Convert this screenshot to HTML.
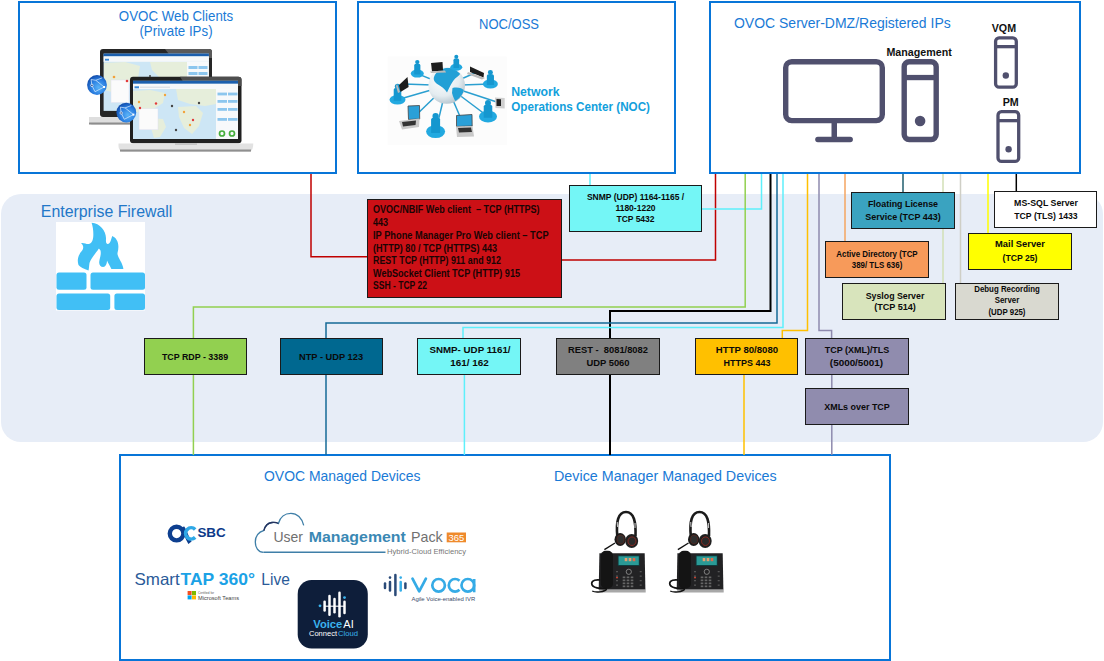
<!DOCTYPE html>
<html><head><meta charset="utf-8"><style>
html,body{margin:0;padding:0;}
body{width:1104px;height:661px;position:relative;overflow:hidden;background:#fff;font-family:"Liberation Sans", sans-serif;}
.t{position:absolute;white-space:pre;line-height:1;}
.r{position:absolute;box-sizing:border-box;}
svg{position:absolute;left:0;top:0;}
</style></head><body>

<div class="r" style="left:1px;top:194px;width:1102px;height:248px;background:#e7edf7;border-radius:20px;"></div>
<div class="r" style="left:18px;top:1px;width:319px;height:173px;background:#fff;border:2px solid #0875d8;"></div>
<div class="r" style="left:357px;top:1px;width:319px;height:173px;background:#fff;border:2px solid #0875d8;"></div>
<div class="r" style="left:709px;top:1px;width:372px;height:173px;background:#fff;border:2px solid #0875d8;"></div>
<div class="r" style="left:119px;top:454px;width:772px;height:207px;background:#fff;border:2px solid #0875d8;"></div>
<svg width="1104" height="661"><path d="M311,174 L311,256.7 L367,256.7" stroke="#c00000" stroke-width="1.5" fill="none"/><path d="M562,260 L715.5,260 L715.5,174" stroke="#c00000" stroke-width="1.5" fill="none"/><path d="M590,174 L590,185" stroke="#5ef0fb" stroke-width="1.5" fill="none"/><path d="M702,209 L761.5,209 L761.5,174" stroke="#5ef0fb" stroke-width="1.5" fill="none"/><path d="M193.4,338 L193.4,307 L745.2,307 L745.2,174" stroke="#92d050" stroke-width="1.5" fill="none"/><path d="M193.4,375 L193.4,455" stroke="#92d050" stroke-width="1.5" fill="none"/><path d="M610,338 L610,311 L770.5,311 L770.5,174" stroke="#000" stroke-width="2" fill="none"/><path d="M610,375 L610,455" stroke="#000" stroke-width="2" fill="none"/><path d="M326,338 L326,323 L777,323 L777,174" stroke="#166a97" stroke-width="1.5" fill="none"/><path d="M326,375 L326,455" stroke="#166a97" stroke-width="1.5" fill="none"/><path d="M463,338 L463,327.5 L783,327.5 L783,174" stroke="#5ef0fb" stroke-width="1.5" fill="none"/><path d="M464.4,375 L464.4,455" stroke="#5ef0fb" stroke-width="1.5" fill="none"/><path d="M782.3,338 L782.3,330.6 L807.5,330.6 L807.5,174" stroke="#ffc000" stroke-width="1.5" fill="none"/><path d="M744,375 L744,455" stroke="#ffc000" stroke-width="1.5" fill="none"/><path d="M831.6,338 L831.6,330.6 L819,330.6 L819,174" stroke="#8e8aae" stroke-width="1.5" fill="none"/><path d="M831.8,375 L831.8,388" stroke="#8e8aae" stroke-width="1.5" fill="none"/><path d="M831.8,425 L831.8,455" stroke="#8e8aae" stroke-width="1.5" fill="none"/><path d="M845,174 L845,241" stroke="#f4a460" stroke-width="1.5" fill="none"/><path d="M903,174 L903,192" stroke="#215e6e" stroke-width="1.5" fill="none"/><path d="M943,174 L943,283" stroke="#d2dfb6" stroke-width="1.5" fill="none"/><path d="M960.5,174 L960.5,283" stroke="#cfcfc6" stroke-width="1.5" fill="none"/><path d="M988,174 L988,233" stroke="#ffff00" stroke-width="1.5" fill="none"/><path d="M1016.3,174 L1016.3,191" stroke="#000" stroke-width="1.5" fill="none"/></svg>
<div class="r" style="left:367px;top:199px;width:195px;height:99px;background:#cc1016;border:1px solid #1a1a1a;"></div>
<div class="r" style="left:569px;top:185px;width:133px;height:47px;background:#74f6f6;border:1px solid #1a1a1a;"></div>
<div class="r" style="left:851px;top:192px;width:104px;height:37px;background:#3aa3c0;border:1px solid #1a1a1a;"></div>
<div class="r" style="left:994px;top:191px;width:103px;height:37px;background:#fff;border:1px solid #1a1a1a;"></div>
<div class="r" style="left:968px;top:233px;width:104px;height:37px;background:#ffff00;border:1px solid #1a1a1a;"></div>
<div class="r" style="left:825px;top:241px;width:104px;height:37px;background:#f79a5a;border:1px solid #1a1a1a;"></div>
<div class="r" style="left:842px;top:283px;width:104px;height:37px;background:#d8e4bc;border:1px solid #1a1a1a;"></div>
<div class="r" style="left:955px;top:283px;width:104px;height:37px;background:#d9d9d0;border:1px solid #1a1a1a;"></div>
<div class="r" style="left:144px;top:338px;width:103px;height:37px;background:#92d050;border:1px solid #1a1a1a;"></div>
<div class="r" style="left:280px;top:338px;width:103px;height:37px;background:#006890;border:1px solid #1a1a1a;"></div>
<div class="r" style="left:417px;top:338px;width:104px;height:37px;background:#74f6f6;border:1px solid #1a1a1a;"></div>
<div class="r" style="left:556px;top:338px;width:104px;height:37px;background:#808080;border:1px solid #1a1a1a;"></div>
<div class="r" style="left:695px;top:338px;width:103px;height:37px;background:#ffc000;border:1px solid #1a1a1a;"></div>
<div class="r" style="left:805px;top:338px;width:104px;height:37px;background:#908cae;border:1px solid #1a1a1a;"></div>
<div class="r" style="left:805px;top:388px;width:104px;height:37px;background:#908cae;border:1px solid #1a1a1a;"></div>
<div class="t" style="left:373.20px;top:205.28px;font-size:10.3px;font-weight:bold;color:#1a0404;transform:scaleX(0.879);transform-origin:left;">OVOC/NBIF Web client  – TCP (HTTPS)</div>
<div class="t" style="left:373.20px;top:217.58px;font-size:10.3px;font-weight:bold;color:#1a0404;transform:scaleX(0.88);transform-origin:left;">443</div>
<div class="t" style="left:373.20px;top:230.88px;font-size:10.3px;font-weight:bold;color:#1a0404;transform:scaleX(0.899);transform-origin:left;">IP Phone Manager Pro Web client – TCP</div>
<div class="t" style="left:373.20px;top:243.78px;font-size:10.3px;font-weight:bold;color:#1a0404;transform:scaleX(0.883);transform-origin:left;">(HTTP) 80 / TCP (HTTPS) 443</div>
<div class="t" style="left:373.20px;top:255.68px;font-size:10.3px;font-weight:bold;color:#1a0404;transform:scaleX(0.864);transform-origin:left;">REST TCP (HTTP) 911 and 912</div>
<div class="t" style="left:373.20px;top:268.58px;font-size:10.3px;font-weight:bold;color:#1a0404;transform:scaleX(0.882);transform-origin:left;">WebSocket Client TCP (HTTP) 915</div>
<div class="t" style="left:373.20px;top:281.28px;font-size:10.3px;font-weight:bold;color:#1a0404;transform:scaleX(0.83);transform-origin:left;">SSH - TCP 22</div>
<div class="t" style="left:635.50px;top:192.80px;font-size:8.5px;font-weight:bold;color:#0a0a0a;transform:translateX(-50%) scaleX(1.0);transform-origin:center;">SNMP (UDP) 1164-1165 /</div>
<div class="t" style="left:635.50px;top:204.00px;font-size:8.5px;font-weight:bold;color:#0a0a0a;transform:translateX(-50%) scaleX(1.0);transform-origin:center;">1180-1220</div>
<div class="t" style="left:635.50px;top:214.70px;font-size:8.5px;font-weight:bold;color:#0a0a0a;transform:translateX(-50%) scaleX(1.0);transform-origin:center;">TCP 5432</div>
<div class="t" style="left:903.00px;top:198.82px;font-size:9.9px;font-weight:bold;color:#0a0a0a;transform:translateX(-50%) scaleX(0.9);transform-origin:center;">Floating License</div>
<div class="t" style="left:903.00px;top:211.62px;font-size:9.9px;font-weight:bold;color:#0a0a0a;transform:translateX(-50%) scaleX(0.907);transform-origin:center;">Service (TCP 443)</div>
<div class="t" style="left:1045.50px;top:197.82px;font-size:9.9px;font-weight:bold;color:#0a0a0a;transform:translateX(-50%) scaleX(0.89);transform-origin:center;">MS-SQL Server</div>
<div class="t" style="left:1045.50px;top:210.82px;font-size:9.9px;font-weight:bold;color:#0a0a0a;transform:translateX(-50%) scaleX(0.877);transform-origin:center;">TCP (TLS) 1433</div>
<div class="t" style="left:1020.00px;top:239.42px;font-size:9.9px;font-weight:bold;color:#0a0a0a;transform:translateX(-50%) scaleX(0.946);transform-origin:center;">Mail Server</div>
<div class="t" style="left:1020.00px;top:253.22px;font-size:9.9px;font-weight:bold;color:#0a0a0a;transform:translateX(-50%) scaleX(0.878);transform-origin:center;">(TCP 25)</div>
<div class="t" style="left:877.00px;top:249.92px;font-size:8.6px;font-weight:bold;color:#0a0a0a;transform:translateX(-50%) scaleX(0.92);transform-origin:center;">Active Directory (TCP</div>
<div class="t" style="left:877.00px;top:260.72px;font-size:8.6px;font-weight:bold;color:#0a0a0a;transform:translateX(-50%) scaleX(0.92);transform-origin:center;">389/ TLS 636)</div>
<div class="t" style="left:894.50px;top:290.82px;font-size:9.9px;font-weight:bold;color:#0a0a0a;transform:translateX(-50%) scaleX(0.89);transform-origin:center;">Syslog Server</div>
<div class="t" style="left:894.50px;top:302.22px;font-size:9.9px;font-weight:bold;color:#0a0a0a;transform:translateX(-50%) scaleX(0.92);transform-origin:center;">(TCP 514)</div>
<div class="t" style="left:1007.30px;top:285.96px;font-size:8.2px;font-weight:bold;color:#0a0a0a;transform:translateX(-50%) scaleX(0.96);transform-origin:center;">Debug Recording</div>
<div class="t" style="left:1007.30px;top:297.26px;font-size:8.2px;font-weight:bold;color:#0a0a0a;transform:translateX(-50%) scaleX(0.96);transform-origin:center;">Server</div>
<div class="t" style="left:1007.30px;top:308.66px;font-size:8.2px;font-weight:bold;color:#0a0a0a;transform:translateX(-50%) scaleX(0.96);transform-origin:center;">(UDP 925)</div>
<div class="t" style="left:195.20px;top:351.92px;font-size:9.9px;font-weight:bold;color:#0a0a0a;transform:translateX(-50%) scaleX(0.897);transform-origin:center;">TCP RDP - 3389</div>
<div class="t" style="left:331.40px;top:351.92px;font-size:9.9px;font-weight:bold;color:#0a0a0a;transform:translateX(-50%) scaleX(0.94);transform-origin:center;">NTP - UDP 123</div>
<div class="t" style="left:469.50px;top:345.22px;font-size:9.9px;font-weight:bold;color:#0a0a0a;transform:translateX(-50%) scaleX(0.987);transform-origin:center;">SNMP- UDP 1161/</div>
<div class="t" style="left:469.50px;top:357.92px;font-size:9.9px;font-weight:bold;color:#0a0a0a;transform:translateX(-50%) scaleX(1.0);transform-origin:center;">161/ 162</div>
<div class="t" style="left:608.00px;top:345.22px;font-size:9.9px;font-weight:bold;color:#0a0a0a;transform:translateX(-50%) scaleX(0.945);transform-origin:center;">REST -  8081/8082</div>
<div class="t" style="left:608.00px;top:357.92px;font-size:9.9px;font-weight:bold;color:#0a0a0a;transform:translateX(-50%) scaleX(0.95);transform-origin:center;">UDP 5060</div>
<div class="t" style="left:746.70px;top:344.72px;font-size:9.9px;font-weight:bold;color:#0a0a0a;transform:translateX(-50%) scaleX(0.973);transform-origin:center;">HTTP 80/8080</div>
<div class="t" style="left:746.70px;top:357.82px;font-size:9.9px;font-weight:bold;color:#0a0a0a;transform:translateX(-50%) scaleX(0.907);transform-origin:center;">HTTPS 443</div>
<div class="t" style="left:856.50px;top:344.72px;font-size:9.9px;font-weight:bold;color:#0a0a0a;transform:translateX(-50%) scaleX(0.909);transform-origin:center;">TCP (XML)/TLS</div>
<div class="t" style="left:856.50px;top:357.82px;font-size:9.9px;font-weight:bold;color:#0a0a0a;transform:translateX(-50%) scaleX(1.0);transform-origin:center;">(5000/5001)</div>
<div class="t" style="left:856.50px;top:401.82px;font-size:9.9px;font-weight:bold;color:#0a0a0a;transform:translateX(-50%) scaleX(0.905);transform-origin:center;">XMLs over TCP</div>
<div class="t" style="left:175.50px;top:9.10px;font-size:14.3px;font-weight:normal;color:#1a7ad6;transform:translateX(-50%) scaleX(0.93);transform-origin:center;">OVOC Web Clients</div>
<div class="t" style="left:175.80px;top:24.30px;font-size:14.3px;font-weight:normal;color:#1a7ad6;transform:translateX(-50%) scaleX(0.93);transform-origin:center;">(Private IPs)</div>
<div class="t" style="left:509.00px;top:16.63px;font-size:14.5px;font-weight:normal;color:#1a7ad6;transform:translateX(-50%) scaleX(0.897);transform-origin:center;">NOC/OSS</div>
<div class="t" style="left:733.70px;top:16.43px;font-size:14.5px;font-weight:normal;color:#1a7ad6;transform:scaleX(0.964);transform-origin:left;">OVOC Server-DMZ/Registered IPs</div>
<div class="t" style="left:40.80px;top:203.84px;font-size:15.9px;font-weight:normal;color:#2277c8;">Enterprise Firewall</div>
<div class="t" style="left:264.00px;top:469.03px;font-size:14.5px;font-weight:normal;color:#1a7ad6;transform:scaleX(0.961);transform-origin:left;">OVOC Managed Devices</div>
<div class="t" style="left:553.60px;top:469.03px;font-size:14.5px;font-weight:normal;color:#1a7ad6;transform:scaleX(0.987);transform-origin:left;">Device Manager Managed Devices</div>
<div class="t" style="left:886.40px;top:46.84px;font-size:10.7px;font-weight:bold;color:#111;">Management</div>
<div class="t" style="left:991.70px;top:23.04px;font-size:10.7px;font-weight:bold;color:#111;">VQM</div>
<div class="t" style="left:1002.70px;top:96.64px;font-size:10.7px;font-weight:bold;color:#111;">PM</div>
<svg width="1104" height="661">
<rect x="785.7" y="61.7" width="96.6" height="58.9" rx="6" ry="6" fill="none" stroke="#50506e" stroke-width="5.4"/>
<rect x="831.5" y="122" width="5.5" height="16" fill="#50506e"/>
<rect x="815.2" y="136.8" width="37.7" height="5.4" rx="2.7" fill="#50506e"/>
<rect x="904.2" y="61.7" width="32" height="77.8" rx="5" ry="5" fill="none" stroke="#50506e" stroke-width="5.4"/>
<rect x="904" y="74.9" width="32.5" height="5.3" fill="#50506e"/>
<circle cx="920.1" cy="121" r="5.3" fill="#50506e"/>
<rect x="995.6" y="37.8" width="20.7" height="49.4" rx="3.5" fill="none" stroke="#50506e" stroke-width="3.3"/>
<rect x="995.6" y="45" width="20.7" height="3.3" fill="#50506e"/>
<circle cx="1005.8" cy="75.5" r="3.2" fill="#50506e"/>
<rect x="998" y="111.7" width="20.7" height="49.7" rx="3.5" fill="none" stroke="#50506e" stroke-width="3.3"/>
<rect x="998" y="119" width="20.7" height="3.3" fill="#50506e"/>
<circle cx="1008.6" cy="149.3" r="3.2" fill="#50506e"/>
</svg>
<svg width="1104" height="661">
<rect x="56" y="222" width="89" height="88.5" fill="#fff"/>
<rect x="56.5" y="272.5" width="30" height="17.2" rx="2.5" fill="#41bff5"/>
<rect x="90.5" y="272.5" width="54.5" height="17.2" rx="2.5" fill="#41bff5"/>
<rect x="56.5" y="293.4" width="53.7" height="16.6" rx="2.5" fill="#41bff5"/>
<rect x="114.4" y="293.4" width="30.6" height="16.6" rx="2.5" fill="#41bff5"/>
<path d="M91.6,222.7 C100,223 106,231 106,238 C106,241 105.5,243 107.5,244 C110,244.5 111,240 112.2,236 C117,238 120,244 117.5,253 C117,257 123,263 123.4,269 L111.4,269 C110,266 108,263 107,260.5 C107,264 105.5,267 103.2,267 C100.5,267 99,265 99.2,262 C99.5,258 101.5,255 100.5,250.5 C99.5,249 98.8,248.5 98.5,249 C96,253 91,258 89.5,263 C89,266 89,268.5 88.5,270.6 C84,269 80,267 78.5,265 C76.5,259 79,254 82.5,250 C84,247 83,245 81,243 C84,242.5 86,244 88,244 C91,244 93,241.5 93.3,236 C93.5,231 93,227 91.6,222.7 Z" fill="#41bff5"/>
</svg>
<svg width="1104" height="661"><defs><radialGradient id="glb" cx="58%" cy="62%" r="70%"><stop offset="0" stop-color="#5ab4f8"/><stop offset="0.55" stop-color="#2a7ee0"/><stop offset="1" stop-color="#0a3f9e"/></radialGradient></defs><rect x="100" y="49" width="112" height="68" rx="3" fill="#262626"/><path d="M165,49 L209,49 Q212,49 212,52 L212,58 L172,58 Z" fill="#5a5a5a"/><rect x="103.6" y="53.6" width="105.3" height="57.3" fill="#cde6f5"/><rect x="103.6" y="53.6" width="105.3" height="2.8" fill="#1b5fae"/><rect x="103.6" y="56.4" width="105.3" height="5.4" fill="#f6f8fa"/><rect x="105" y="58.8" width="4" height="1.8" fill="#3a8ad8"/><path d="M104,63 L125,62 L140,66 L138,78 L126,86 L112,92 L104,90 Z" fill="#e6eedb"/><path d="M150,62 L187,62 L187,80 L176,84 L160,78 L152,70 Z" fill="#e6eedb"/><path d="M148,84 L166,86 L170,100 L160,110 L152,104 Z" fill="#e6eedb"/><rect x="187" y="61.8" width="21.9" height="49" fill="#f7f9fb"/><rect x="188.5" y="66" width="9" height="3" fill="#8cc6ee"/><rect x="198.5" y="66" width="9" height="3" fill="#8cc6ee"/><rect x="188.5" y="72" width="9" height="3" fill="#8cc6ee"/><rect x="198.5" y="72" width="9" height="3" fill="#8cc6ee"/><rect x="111" y="80" width="18" height="22.6" fill="#fbfbfb" stroke="#dde" stroke-width="0.4"/><circle cx="114" cy="77" r="1.3" fill="#f2a23a"/><circle cx="127" cy="81" r="1.3" fill="#e23b3b"/><circle cx="150" cy="76" r="1" fill="#444"/><path d="M89,117 L140,117 L140,125 L92,125 Q89,124 89,121 Z" fill="#dedede"/><rect x="89" y="122.5" width="51" height="2" fill="#8d8d8d"/><rect x="130" y="76.8" width="111.5" height="66.5" rx="3" fill="#202020"/><path d="M180,76.8 L238,76.8 Q241.5,76.8 241.5,80 L241.5,86 L186,86 Z" fill="#4e4e4e"/><rect x="133" y="80.8" width="105" height="58.2" fill="#cde6f5"/><path d="M133,91 L150,90 L165,93 L163,103 L155,108 L146,113 L135,112 L133,110 Z" fill="#e6eedb"/><path d="M176,89 L216,89 L216,104 L205,106 L190,104 L178,100 Z" fill="#e6eedb"/><path d="M178,107 L196,106 L203,113 L199,126 L192,134 L184,128 L179,117 Z" fill="#e6eedb"/><path d="M150,118 L163,119 L166,127 L160,137 L154,138 L151,128 Z" fill="#e6eedb"/><rect x="133" y="80.8" width="105" height="3" fill="#1b5fae"/><rect x="133" y="83.8" width="105" height="5.2" fill="#f6f8fa"/><rect x="134.5" y="86.3" width="4.5" height="2" fill="#3a8ad8"/><rect x="140" y="86.5" width="30" height="1.5" fill="#dfe3e8"/><rect x="216" y="89" width="22" height="50" fill="#f7f9fb"/><rect x="217.5" y="92.6" width="9.5" height="2.8" fill="#8cc6ee"/><rect x="228" y="92.6" width="9.5" height="2.8" fill="#8cc6ee"/><rect x="217.5" y="100" width="9.5" height="2.8" fill="#8cc6ee"/><rect x="228" y="100" width="9.5" height="2.8" fill="#8cc6ee"/><rect x="217.5" y="108" width="9.5" height="2.8" fill="#8cc6ee"/><rect x="228" y="108" width="9.5" height="2.8" fill="#8cc6ee"/><rect x="217.5" y="118" width="9.5" height="2.8" fill="#8cc6ee"/><rect x="228" y="118" width="9.5" height="2.8" fill="#8cc6ee"/><circle cx="222" cy="133.5" r="2.5" fill="none" stroke="#46ae3c" stroke-width="1.7"/><circle cx="232" cy="133.5" r="2.5" fill="none" stroke="#46ae3c" stroke-width="1.7"/><rect x="139" y="108.6" width="19" height="21.2" fill="#fbfbfb" stroke="#dde" stroke-width="0.4"/><circle cx="139" cy="102" r="1.2" fill="#f2a23a"/><circle cx="156" cy="103.5" r="1.2" fill="#e23b3b"/><circle cx="172" cy="106" r="1.2" fill="#444"/><circle cx="184" cy="112" r="1.2" fill="#f2a23a"/><circle cx="193" cy="120" r="1.2" fill="#e23b3b"/><circle cx="176" cy="130" r="1.2" fill="#444"/><circle cx="190" cy="125" r="1.2" fill="#f2a23a"/><circle cx="199" cy="103" r="1.2" fill="#444"/><circle cx="140" cy="108" r="1.2" fill="#e23b3b"/><circle cx="165" cy="95" r="1.2" fill="#f2a23a"/><path d="M118.5,143.4 L253.3,143.4 Q253.3,150 250,151.6 L122,151.6 Q118.5,150 118.5,146 Z" fill="#e2e2e2"/><rect x="120" y="149.5" width="131" height="2.1" fill="#8f8f8f"/><rect x="175" y="143.4" width="22" height="1.3" fill="#b8b8b8"/><circle cx="97" cy="85" r="9.9" fill="url(#glb)"/><path d="M91.1,79.5 L95.8,80.3 L102.1,77.9 M91.1,79.5 L91.9,85.4 L95.0,91.7 L104.1,87.0 L95.8,80.3" fill="none" stroke="#d8ecff" stroke-width="0.8" opacity="0.9"/><circle cx="91.9" cy="85.4" r="1.2" fill="#224a8a" stroke="#fff" stroke-width="0.7"/><rect x="103.1" y="86" width="2" height="2" fill="#fff"/><circle cx="126.3" cy="112.6" r="9.9" fill="url(#glb)"/><path d="M120.4,107.1 L125.1,107.9 L131.4,105.5 M120.4,107.1 L121.2,113.0 L124.3,119.3 L133.4,114.6 L125.1,107.9" fill="none" stroke="#d8ecff" stroke-width="0.8" opacity="0.9"/><circle cx="121.2" cy="113.0" r="1.2" fill="#224a8a" stroke="#fff" stroke-width="0.7"/><rect x="132.4" y="113.6" width="2" height="2" fill="#fff"/></svg><svg width="1104" height="661"><defs><radialGradient id="nglb" cx="38%" cy="32%" r="72%"><stop offset="0" stop-color="#ffffff"/><stop offset="0.65" stop-color="#e4ecf0"/><stop offset="1" stop-color="#b4c4ce"/></radialGradient><clipPath id="gclip"><circle cx="446.7" cy="85.5" r="17.8"/></clipPath></defs><rect x="387.6" y="56.5" width="119.2" height="88.5" fill="#fcfcfc"/><line x1="446.7" y1="85.5" x2="417.3" y2="73.6" stroke="#2a9fd0" stroke-width="1.5"/><line x1="446.7" y1="85.5" x2="456.3" y2="67.2" stroke="#2a9fd0" stroke-width="1.5"/><line x1="446.7" y1="85.5" x2="490.4" y2="84" stroke="#2a9fd0" stroke-width="1.5"/><line x1="446.7" y1="85.5" x2="397.5" y2="99.8" stroke="#2a9fd0" stroke-width="1.5"/><line x1="446.7" y1="85.5" x2="488" y2="116.5" stroke="#2a9fd0" stroke-width="1.5"/><line x1="446.7" y1="85.5" x2="435.6" y2="131.6" stroke="#2a9fd0" stroke-width="1.5"/><line x1="446.7" y1="85.5" x2="436.8" y2="67" stroke="#2a9fd0" stroke-width="1.5"/><line x1="446.7" y1="85.5" x2="477" y2="72" stroke="#2a9fd0" stroke-width="1.5"/><line x1="446.7" y1="85.5" x2="403.8" y2="84" stroke="#2a9fd0" stroke-width="1.5"/><line x1="446.7" y1="85.5" x2="499.8" y2="103" stroke="#2a9fd0" stroke-width="1.5"/><line x1="446.7" y1="85.5" x2="412" y2="119" stroke="#2a9fd0" stroke-width="1.5"/><line x1="446.7" y1="85.5" x2="464.5" y2="127" stroke="#2a9fd0" stroke-width="1.5"/><circle cx="446.7" cy="85.5" r="18.3" fill="url(#nglb)"/><path d="M434,77 C436,71 443,67.5 450,67.5 C456,68 460,70 460.5,73.5 C458.5,76.5 455.5,77.5 453.5,80.5 C451.5,83.5 449.5,87 447,92.5 C445,89 441,86 438,84.5 C435,82.5 433,80 434,77 Z" fill="#22a0d6" clip-path="url(#gclip)"/><path d="M452.5,88 C457,86.8 462,87.8 464.8,91 C464.5,96 461.5,100.5 457,104.2 C455,101 453,97 452,93 Z" fill="#22a0d6" clip-path="url(#gclip)"/><ellipse cx="417.3" cy="73.6" rx="6.5" ry="4" fill="#22a9e0"/><path d="M414.21250000000003,74.39999999999999 L414.21250000000003,65.6 Q414.21250000000003,63.599999999999994 417.3,63.599999999999994 Q420.3875,63.599999999999994 420.3875,65.6 L420.3875,74.39999999999999 Z" fill="#1597cf"/><circle cx="417.3" cy="62.099999999999994" r="2.16125" fill="#1597cf"/><ellipse cx="456.3" cy="67.2" rx="6" ry="3.5" fill="#22a9e0"/><path d="M453.45,67.9 L453.45,60.2 Q453.45,58.2 456.3,58.2 Q459.15000000000003,58.2 459.15000000000003,60.2 L459.15000000000003,67.9 Z" fill="#1597cf"/><circle cx="456.3" cy="56.7" r="1.9949999999999997" fill="#1597cf"/><ellipse cx="490.4" cy="84" rx="7.5" ry="4.5" fill="#22a9e0"/><path d="M486.8375,84.9 L486.8375,76 Q486.8375,74 490.4,74 Q493.9625,74 493.9625,76 L493.9625,84.9 Z" fill="#1597cf"/><circle cx="490.4" cy="72.5" r="2.49375" fill="#1597cf"/><ellipse cx="397.5" cy="99.8" rx="8" ry="4.8" fill="#22a9e0"/><path d="M393.7,100.75999999999999 L393.7,89.8 Q393.7,87.8 397.5,87.8 Q401.3,87.8 401.3,89.8 L401.3,100.75999999999999 Z" fill="#1597cf"/><circle cx="397.5" cy="86.3" r="2.6599999999999997" fill="#1597cf"/><ellipse cx="488" cy="116.5" rx="9" ry="6" fill="#22a9e0"/><path d="M483.725,117.7 L483.725,106.5 Q483.725,104.5 488,104.5 Q492.275,104.5 492.275,106.5 L492.275,117.7 Z" fill="#1597cf"/><circle cx="488" cy="103.0" r="2.9924999999999993" fill="#1597cf"/><ellipse cx="435.6" cy="131.6" rx="9.5" ry="6.4" fill="#22a9e0"/><path d="M431.08750000000003,132.88 L431.08750000000003,119.6 Q431.08750000000003,117.6 435.6,117.6 Q440.1125,117.6 440.1125,119.6 L440.1125,132.88 Z" fill="#1597cf"/><circle cx="435.6" cy="116.1" r="3.15875" fill="#1597cf"/><path d="M431,63 L442.5,62 L443,70.5 L432,71.5 Z" fill="#1d1d1d"/><path d="M430,71.5 L445,70.5 L446,72.5 L431,73 Z" fill="#bbb"/><path d="M470,66.5 L484,73 L483.5,77.5 L470,72 Z" fill="#1d1d1d"/><path d="M468,72 L485,78 L482,79.5 L467,74 Z" fill="#bbb"/><path d="M399,85 L407.5,77 L408.6,87 L400.5,92 Z" fill="#1d1d1d"/><path d="M397,84 L400,92 L398,93 L396,86 Z" fill="#bbb"/><path d="M495,97.5 L504.7,98 L504.7,108.5 L495.5,108 Z" fill="#cfcfcf"/><path d="M496.5,99 L501,99.3 L501,106 L496.5,106 Z" fill="#222"/><path d="M408,106 L419.5,105.5 L419.7,119 L408.5,119.5 Z" fill="#2aa0d8" stroke="#444" stroke-width="0.8"/><path d="M399,121 L419.5,118.5 L419,127 L402,129.5 Z" fill="#c9c9c9"/><path d="M402,122 L416,120.5 L415.5,125 L403,126.5 Z" fill="#333"/><path d="M456.5,115.5 L472,114.5 L472.2,126 L456.5,126.5 Z" fill="#2aa0d8" stroke="#444" stroke-width="0.8"/><path d="M456,126.5 L472.5,126 L474,136.5 L457,137 Z" fill="#c9c9c9"/><path d="M458,128 L471,127.5 L472,132 L459,132.5 Z" fill="#333"/></svg><svg width="1104" height="661"><text x="511.2" y="96.2" font-family="Liberation Sans" font-weight="bold" font-size="12" fill="#12a0dc" textLength="48.4" lengthAdjust="spacingAndGlyphs">Network</text><text x="511.2" y="111.1" font-family="Liberation Sans" font-weight="bold" font-size="12" fill="#12a0dc" textLength="138.8" lengthAdjust="spacingAndGlyphs">Operations Center (NOC)</text></svg><svg width="1104" height="661"><path d="M617.3,536 C616,522 618,512 626,512 C634,512 636,522 635.5,536" fill="none" stroke="#1b1b1b" stroke-width="2.6"/><path d="M617.2,522 L617.6,527" stroke="#bbb" stroke-width="1.2"/><path d="M635,523 L635,528" stroke="#bbb" stroke-width="1.2"/><line x1="615" y1="543" x2="604.4" y2="549.6" stroke="#111" stroke-width="1.4"/><ellipse cx="620.2" cy="539.5" rx="5.7" ry="6.5" fill="#1a1a1a"/><ellipse cx="620.6" cy="539.5" rx="3.6" ry="4.4" fill="#2e2e2e" stroke="#6a2a20" stroke-width="0.6"/><ellipse cx="631.7" cy="541" rx="6.5" ry="6.9" fill="#202020"/><ellipse cx="632" cy="541.2" rx="4" ry="4.3" fill="#2a2a2a" stroke="#8e2a22" stroke-width="0.9"/><path d="M599.4000000000001,553.2 L644.7,553.2 L645.4000000000001,589.8 L598.7,589.8 Z" fill="#222224"/><rect x="599.2" y="589.5" width="46.5" height="3" fill="#a8a8a8"/><rect x="600.8000000000001" y="550.7" width="12.2" height="37.7" rx="5" fill="#141414"/><rect x="617.8000000000001" y="555.3" width="21.8" height="10.7" fill="#0f3c3e"/><rect x="618.6" y="556.3" width="20.2" height="8.7" fill="#2a9a96"/><rect x="624.7" y="558" width="2.6" height="3.2" fill="#e6a070"/><rect x="628.7" y="558" width="2.6" height="3.2" fill="#e6a070"/><rect x="632.7" y="558" width="2.6" height="3.2" fill="#e06a4a"/><circle cx="628.8000000000001" cy="571.8" r="2.6" fill="none" stroke="#8a8a8a" stroke-width="0.9"/><rect x="622.7" y="576.5" width="2.6" height="1.7" fill="#666"/><rect x="626.7" y="576.5" width="2.6" height="1.7" fill="#666"/><rect x="630.7" y="576.5" width="2.6" height="1.7" fill="#666"/><rect x="622.7" y="579.5" width="2.6" height="1.7" fill="#666"/><rect x="626.7" y="579.5" width="2.6" height="1.7" fill="#666"/><rect x="630.7" y="579.5" width="2.6" height="1.7" fill="#666"/><rect x="622.7" y="582.5" width="2.6" height="1.7" fill="#666"/><rect x="626.7" y="582.5" width="2.6" height="1.7" fill="#666"/><rect x="630.7" y="582.5" width="2.6" height="1.7" fill="#666"/><rect x="622.7" y="585.5" width="2.6" height="1.7" fill="#666"/><rect x="626.7" y="585.5" width="2.6" height="1.7" fill="#666"/><rect x="630.7" y="585.5" width="2.6" height="1.7" fill="#666"/><rect x="616.0" y="571" width="2" height="1.3" fill="#555"/><rect x="639.7" y="571" width="2" height="1.3" fill="#555"/><rect x="616.0" y="575.5" width="2" height="1.3" fill="#555"/><rect x="639.7" y="575.5" width="2" height="1.3" fill="#555"/><rect x="616.0" y="580" width="2" height="1.3" fill="#555"/><rect x="639.7" y="580" width="2" height="1.3" fill="#555"/><rect x="616.0" y="584.5" width="2" height="1.3" fill="#555"/><rect x="639.7" y="584.5" width="2" height="1.3" fill="#555"/><rect x="616.0" y="577" width="2" height="1.3" fill="#c04030"/><path d="M606.7,588.5 C600.7,589 591.7,588 591.7,583.5 C591.7,580 596.7,579.5 600.2,580" fill="none" stroke="#111" stroke-width="1.7"/><path d="M606.7,589 C604.7,592 595.7,593 592.2,591" fill="none" stroke="#111" stroke-width="1.4"/><path d="M690.8,536 C689.5,522 691.5,512 699.5,512 C707.5,512 709.5,522 709.0,536" fill="none" stroke="#1b1b1b" stroke-width="2.6"/><path d="M690.7,522 L691.1,527" stroke="#bbb" stroke-width="1.2"/><path d="M708.5,523 L708.5,528" stroke="#bbb" stroke-width="1.2"/><line x1="688.5" y1="543" x2="677.9" y2="549.6" stroke="#111" stroke-width="1.4"/><ellipse cx="693.7" cy="539.5" rx="5.7" ry="6.5" fill="#1a1a1a"/><ellipse cx="694.1" cy="539.5" rx="3.6" ry="4.4" fill="#2e2e2e" stroke="#6a2a20" stroke-width="0.6"/><ellipse cx="705.2" cy="541" rx="6.5" ry="6.9" fill="#202020"/><ellipse cx="705.5" cy="541.2" rx="4" ry="4.3" fill="#2a2a2a" stroke="#8e2a22" stroke-width="0.9"/><path d="M677.4000000000001,553.2 L722.7,553.2 L723.4000000000001,589.8 L676.7,589.8 Z" fill="#222224"/><rect x="677.2" y="589.5" width="46.5" height="3" fill="#a8a8a8"/><rect x="678.8000000000001" y="550.7" width="12.2" height="37.7" rx="5" fill="#141414"/><rect x="695.8000000000001" y="555.3" width="21.8" height="10.7" fill="#0f3c3e"/><rect x="696.6" y="556.3" width="20.2" height="8.7" fill="#2a9a96"/><rect x="702.7" y="558" width="2.6" height="3.2" fill="#e6a070"/><rect x="706.7" y="558" width="2.6" height="3.2" fill="#e6a070"/><rect x="710.7" y="558" width="2.6" height="3.2" fill="#e06a4a"/><circle cx="706.8000000000001" cy="571.8" r="2.6" fill="none" stroke="#8a8a8a" stroke-width="0.9"/><rect x="700.7" y="576.5" width="2.6" height="1.7" fill="#666"/><rect x="704.7" y="576.5" width="2.6" height="1.7" fill="#666"/><rect x="708.7" y="576.5" width="2.6" height="1.7" fill="#666"/><rect x="700.7" y="579.5" width="2.6" height="1.7" fill="#666"/><rect x="704.7" y="579.5" width="2.6" height="1.7" fill="#666"/><rect x="708.7" y="579.5" width="2.6" height="1.7" fill="#666"/><rect x="700.7" y="582.5" width="2.6" height="1.7" fill="#666"/><rect x="704.7" y="582.5" width="2.6" height="1.7" fill="#666"/><rect x="708.7" y="582.5" width="2.6" height="1.7" fill="#666"/><rect x="700.7" y="585.5" width="2.6" height="1.7" fill="#666"/><rect x="704.7" y="585.5" width="2.6" height="1.7" fill="#666"/><rect x="708.7" y="585.5" width="2.6" height="1.7" fill="#666"/><rect x="694.0" y="571" width="2" height="1.3" fill="#555"/><rect x="717.7" y="571" width="2" height="1.3" fill="#555"/><rect x="694.0" y="575.5" width="2" height="1.3" fill="#555"/><rect x="717.7" y="575.5" width="2" height="1.3" fill="#555"/><rect x="694.0" y="580" width="2" height="1.3" fill="#555"/><rect x="717.7" y="580" width="2" height="1.3" fill="#555"/><rect x="694.0" y="584.5" width="2" height="1.3" fill="#555"/><rect x="717.7" y="584.5" width="2" height="1.3" fill="#555"/><rect x="694.0" y="577" width="2" height="1.3" fill="#c04030"/><path d="M684.7,588.5 C678.7,589 669.7,588 669.7,583.5 C669.7,580 674.7,579.5 678.2,580" fill="none" stroke="#111" stroke-width="1.7"/><path d="M684.7,589 C682.7,592 673.7,593 670.2,591" fill="none" stroke="#111" stroke-width="1.4"/></svg><svg width="1104" height="661"><path d="M184.5,528.5 C182,525.5 179.5,524.6 176.5,524.6 C171,524.6 167.8,528.6 167.8,533.6 C167.8,538.6 171,542.6 176.5,542.6 C181,542.6 184,539 186,535.5 C187.2,538.5 188.3,540.8 189.8,542.8" fill="none" stroke="#0d3f8f" stroke-width="0"/><circle cx="176.6" cy="533.6" r="6.8" fill="none" stroke="#0d3f8f" stroke-width="4.4"/><path d="M182.5,527.5 C185.5,531 186.5,538 190,542.8" fill="none" stroke="#0d3f8f" stroke-width="4"/><path d="M195.16,529.44 A5.6,5.6 0 1 0 195.16,537.36" fill="none" stroke="#2fa8e6" stroke-width="3.6"/><text x="197.4" y="537.4" font-family="Liberation Sans" font-weight="bold" font-size="13.3" fill="#0d3a8a" textLength="28.3" lengthAdjust="spacingAndGlyphs">SBC</text><path d="M263.6,552.3 C258,552.3 255.3,547 255.3,542 C255.3,536 258.5,532 264,530.3 C265,526 268,523 272,522.5 C275,522.2 277,522.6 278.4,523.5 C280,517 285,513.3 290.9,513.3 C297,513.3 302,518 303.7,525.4" fill="none" stroke="#3f7fa8" stroke-width="1.3"/><path d="M263.6,552.3 L385.5,552.3" stroke="#3f7fa8" stroke-width="1.4"/><path d="M263.8,530.6 C265,526 268,523 272,522.5 C275,522.2 277,522.6 278.4,523.5" fill="none" stroke="#26325e" stroke-width="1.4"/><text x="273.5" y="542.4" font-family="Liberation Sans" font-size="14.8" fill="#707070" textLength="29.5" lengthAdjust="spacingAndGlyphs">User</text><text x="308.8" y="542.4" font-family="Liberation Sans" font-weight="bold" font-size="14.8" fill="#3a88b4" textLength="97" lengthAdjust="spacingAndGlyphs">Management</text><text x="411" y="542.4" font-family="Liberation Sans" font-size="14.8" fill="#707070" textLength="31.6" lengthAdjust="spacingAndGlyphs">Pack</text><rect x="446.7" y="532.5" width="19.3" height="9.8" fill="#ef8a2c"/><text x="448.5" y="540.6" font-family="Liberation Sans" font-size="8.5" fill="#fff" textLength="15.7" lengthAdjust="spacingAndGlyphs">365</text><text x="387" y="553.8" font-family="Liberation Sans" font-size="7.4" fill="#777" textLength="79" lengthAdjust="spacingAndGlyphs">Hybrid-Cloud Efficiency</text><text x="134.5" y="584.6" font-family="Liberation Sans" font-size="16.5" fill="#2a5a98" textLength="45.2" lengthAdjust="spacingAndGlyphs">Smart</text><text x="180.5" y="584.6" font-family="Liberation Sans" font-weight="bold" font-size="16.5" fill="#1ba2e6" textLength="74.5" lengthAdjust="spacingAndGlyphs">TAP 360°</text><text x="261.3" y="584.6" font-family="Liberation Sans" font-size="16.5" fill="#2a5a98" textLength="28.5" lengthAdjust="spacingAndGlyphs">Live</text><rect x="187.6" y="591" width="4" height="4" fill="#f25022"/><rect x="192" y="591" width="4" height="4" fill="#7fba00"/><rect x="187.6" y="595.4" width="4" height="4" fill="#00a4ef"/><rect x="192" y="595.4" width="4" height="4" fill="#ffb900"/><text x="198" y="594" font-family="Liberation Sans" font-size="3.5" fill="#555" textLength="16" lengthAdjust="spacingAndGlyphs">Certified for</text><text x="198" y="599.5" font-family="Liberation Sans" font-size="6" fill="#444" textLength="41" lengthAdjust="spacingAndGlyphs">Microsoft Teams</text><rect x="297.7" y="580" width="70.1" height="68.5" rx="14" fill="#0e1e3a"/><line x1="324.6" y1="606.2" x2="344.5" y2="606.2" stroke="#fff" stroke-width="1.1"/><line x1="324.6" y1="601.8" x2="324.6" y2="610.6" stroke="#fff" stroke-width="2.5" stroke-linecap="round"/><line x1="329.5" y1="596" x2="329.5" y2="614.8" stroke="#fff" stroke-width="2.5" stroke-linecap="round"/><line x1="334.5" y1="599" x2="334.5" y2="612.3" stroke="#fff" stroke-width="2.5" stroke-linecap="round"/><line x1="339.5" y1="592.8" x2="339.5" y2="616.3" stroke="#fff" stroke-width="2.5" stroke-linecap="round"/><line x1="344.5" y1="601.8" x2="344.5" y2="613" stroke="#fff" stroke-width="2.5" stroke-linecap="round"/><circle cx="320" cy="605.8" r="1.4" fill="#3bb3ee"/><circle cx="344.5" cy="597.6" r="1.4" fill="#3bb3ee"/><text x="313.3" y="627.6" font-family="Liberation Sans" font-weight="bold" font-size="10" fill="#3bb3ee" textLength="29" lengthAdjust="spacingAndGlyphs">Voice</text><text x="343.3" y="627.6" font-family="Liberation Sans" font-size="10" fill="#fff" textLength="10.4" lengthAdjust="spacingAndGlyphs">AI</text><text x="309" y="635.6" font-family="Liberation Sans" font-size="7" fill="#fff" textLength="28" lengthAdjust="spacingAndGlyphs">Connect</text><text x="338" y="635.6" font-family="Liberation Sans" font-size="7" fill="#3bb3ee" textLength="20" lengthAdjust="spacingAndGlyphs">Cloud</text><line x1="385" y1="583.5" x2="385" y2="588" stroke="#2a4a78" stroke-width="2.5" stroke-linecap="round"/><line x1="390" y1="582" x2="390" y2="590.5" stroke="#2a4a78" stroke-width="2.5" stroke-linecap="round"/><line x1="395.4" y1="575" x2="395.4" y2="595" stroke="#2a4a78" stroke-width="2.5" stroke-linecap="round"/><line x1="400.7" y1="582" x2="400.7" y2="590.5" stroke="#35aee8" stroke-width="2.5" stroke-linecap="round"/><line x1="405.4" y1="583.5" x2="405.4" y2="588" stroke="#2a4a78" stroke-width="2.5" stroke-linecap="round"/><circle cx="390" cy="577.6" r="1.3" fill="#2a4a78"/><circle cx="400.7" cy="577.6" r="1.3" fill="#35aee8"/><path d="M412.5,578.6 L419.2,591.4 L425.9,578.6" fill="none" stroke="#35abe6" stroke-width="2.7" stroke-linejoin="round" stroke-linecap="round"/><circle cx="438.6" cy="585.3" r="6.3" fill="none" stroke="#35abe6" stroke-width="2.7"/><path d="M459.5,580.8 A6.3,6.3 0 1 0 459.5,589.8" fill="none" stroke="#35abe6" stroke-width="2.7"/><circle cx="467.8" cy="585.3" r="6.3" fill="none" stroke="#35abe6" stroke-width="2.7"/><line x1="474.2" y1="579" x2="474.2" y2="592.3" stroke="#35abe6" stroke-width="2.6"/><text x="411.5" y="601" font-family="Liberation Sans" font-size="6" fill="#3a4a6a" textLength="63.7" lengthAdjust="spacingAndGlyphs">Agile Voice-enabled IVR</text></svg>
</body></html>
